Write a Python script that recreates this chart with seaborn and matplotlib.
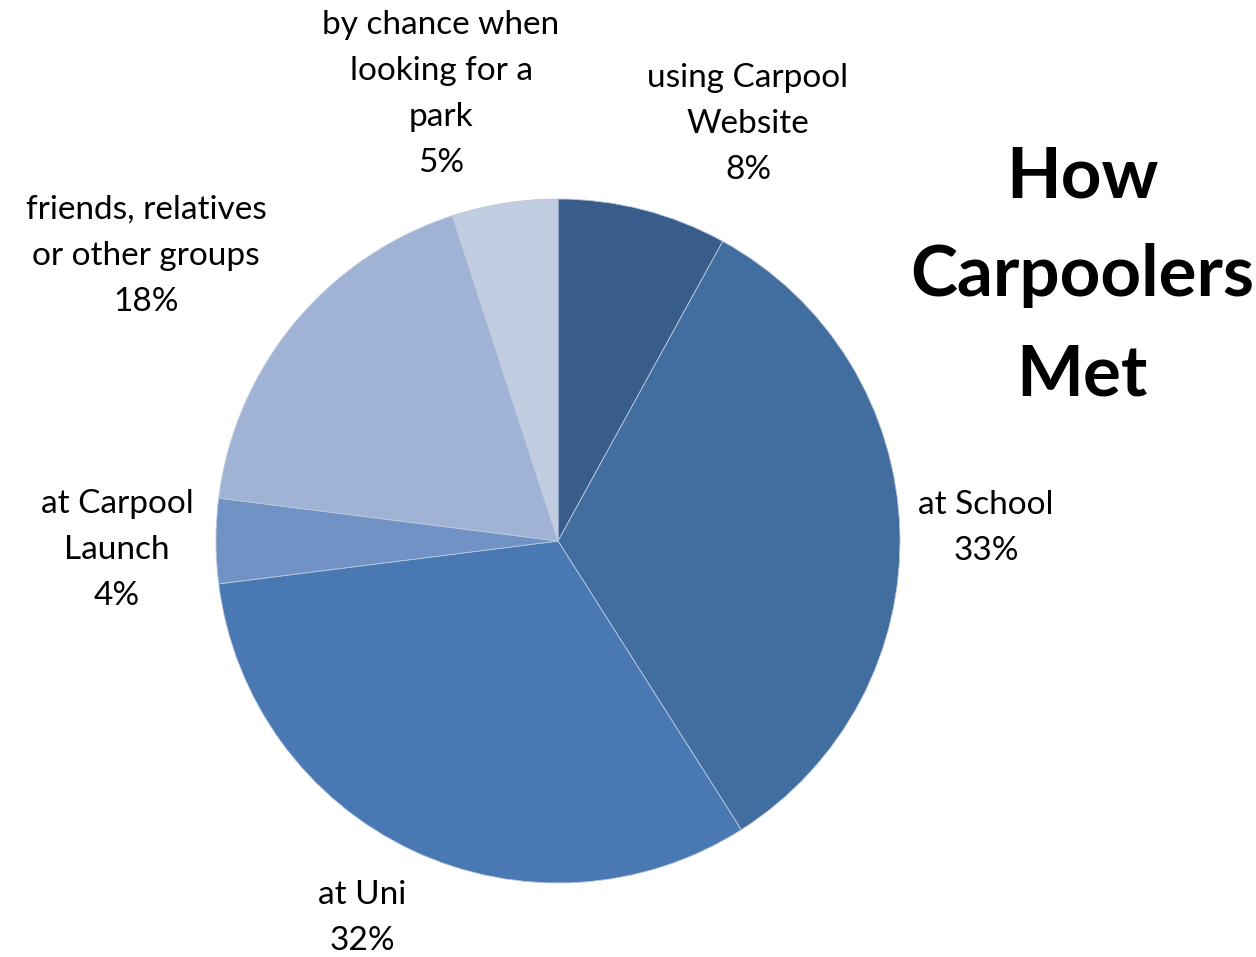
import seaborn as sns
import matplotlib.pyplot as plt

# data
labels = ["using Carpool\nWebsite", "at School", "at Uni", "at Carpool\nLaunch",
          "friends, relatives\nor other groups", "by chance when\nlooking for a\npark"]
shares = [8, 33, 32, 4, 18, 5]
colors = ["#385D8A", "#426D9F", "#4A78B3", "#7092C4", "#A1B3D4", "#C2CDE2"]

sns.set_theme(style="white")
plt.rcParams['font.family'] = ['Lato', 'DejaVu Sans']

fig = plt.figure(figsize=(12.56, 9.57), dpi=100)
ax = fig.add_axes([216 / 1256, 74 / 957, 684 / 1256, 684 / 957])

ax.pie(shares, colors=colors, startangle=90, counterclock=False,
       wedgeprops=dict(edgecolor="#B9C9E0", linewidth=0.6))
ax.set_xlim(-1, 1)
ax.set_ylim(-1, 1)
ax.set_aspect("equal")

# label positions in pixels (x center, y center from top)
label_pos = [(748, 124), (986, 528), (362, 918), (117, 550), (146, 256), (441, 94)]
for lab, val, (px, py) in zip(labels, shares, label_pos):
    fig.text(px / 1256, 1 - py / 957, f"{lab}\n{val}%", ha="center", va="center",
             fontsize=24, linespacing=1.68, color="black")

fig.text(1082 / 1256, 1 - 276 / 957, "How\nCarpoolers\nMet", ha="center", va="center",
         fontsize=51, fontweight="bold", linespacing=1.65, color="black")

fig.savefig("out.png", dpi=100, facecolor="white")
